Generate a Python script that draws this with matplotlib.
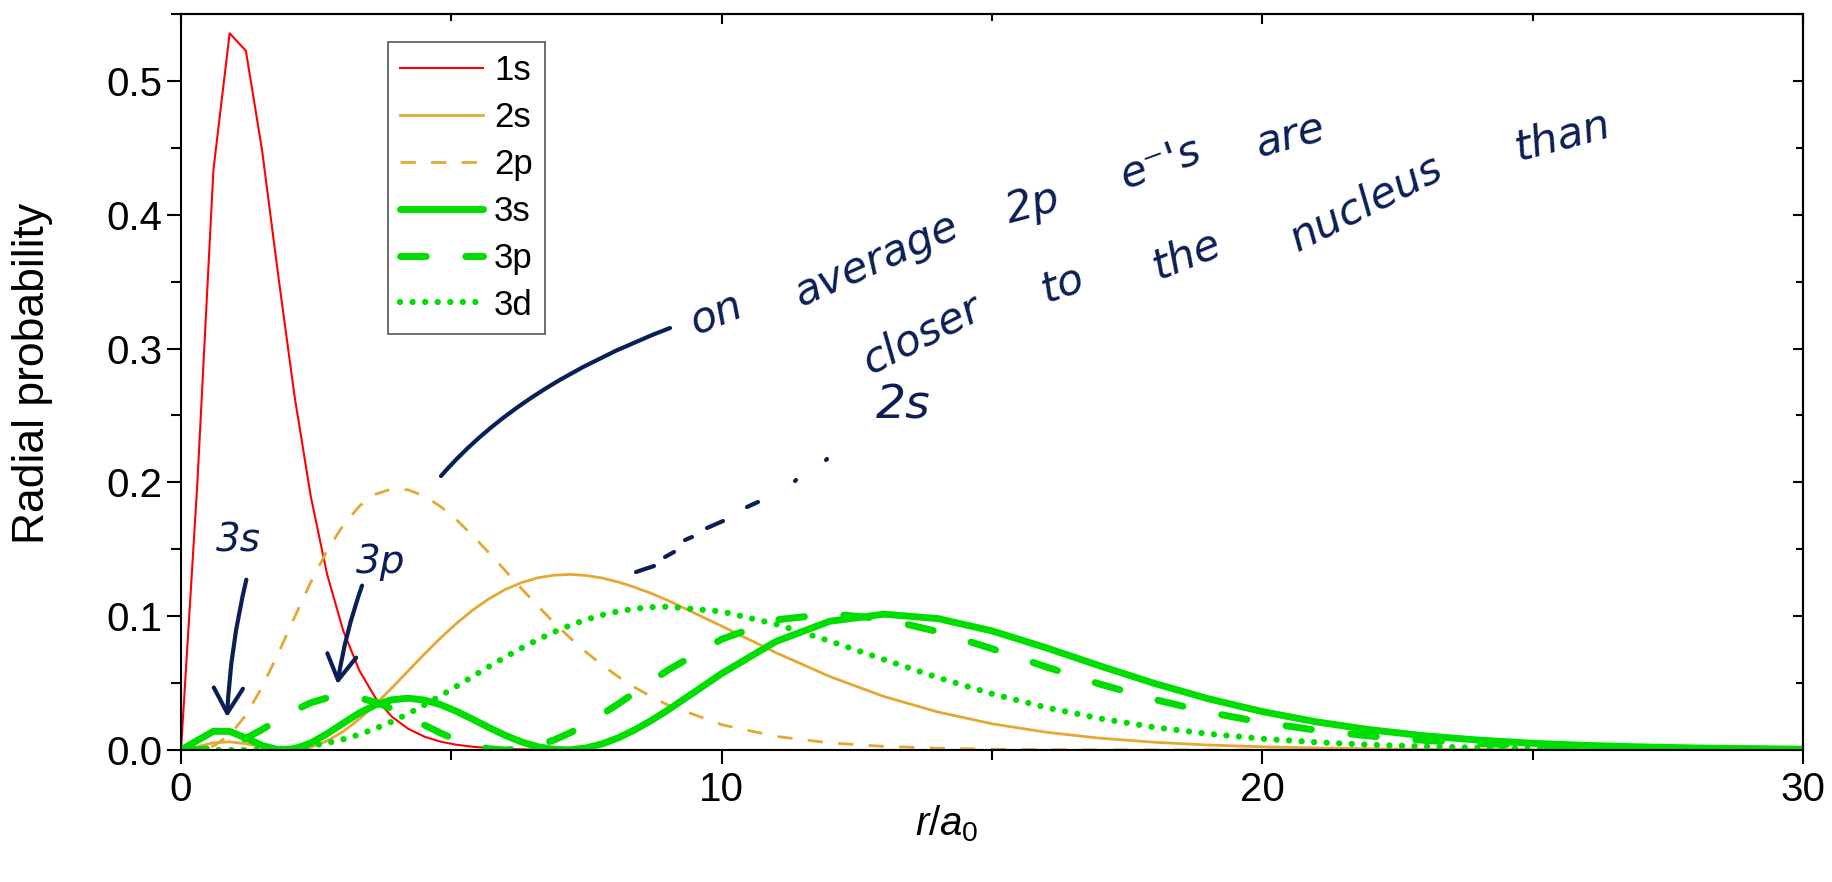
import matplotlib
matplotlib.use("Agg")
import matplotlib.pyplot as plt
import matplotlib.transforms as mtransforms
from matplotlib.patches import FancyArrowPatch, PathPatch
from matplotlib.path import Path
from matplotlib.ticker import MultipleLocator, FormatStrFormatter
from matplotlib.lines import Line2D

plt.rcParams['font.family'] = ['Liberation Sans', 'DejaVu Sans']
plt.rcParams['mathtext.fontset'] = 'custom'
plt.rcParams['mathtext.it'] = 'Liberation Sans:italic'
plt.rcParams['mathtext.rm'] = 'Liberation Sans'

# ------------------------------------------------------------------ #
#  Data : radial probability vs r/a0                                   #
# ------------------------------------------------------------------ #
r = [0, 0.3, 0.6, 0.9, 1.2, 1.5, 1.8, 2.1, 2.4, 2.7, 3.0, 3.3, 3.6, 3.9, 4.2, 4.5, 4.8,
     5.1, 5.4, 5.7, 6.0, 6.3, 6.6, 6.9, 7.2, 7.5, 7.8, 8.1, 8.4, 8.7, 9.0,
     10, 11, 12, 13, 14, 15, 16, 17, 18, 19, 20, 21, 22, 23, 24, 25, 26, 27, 28, 29, 30]

p_1s = [0, .1976, .4337, .5356, .5225, .4481, .3541, .2645, .1896, .1317, .0892, .0593,
        .0387, .0249, .0159, .0100, .0062, .0039, .0024, .0015, .0009, .0005, .0003, .0002,
        .0001, .0001, 0, 0, 0, 0, 0, 0, 0, 0, 0, 0, 0, 0, 0, 0, 0, 0, 0, 0, 0, 0, 0, 0, 0,
        0, 0, 0]
p_2s = [0, .0024, .0054, .0061, .0047, .0024, .0004, .0001, .0021, .0067, .0138, .0232,
        .0342, .0464, .0590, .0716, .0837, .0948, .1047, .1131, .1200, .1251, .1287, .1306,
        .1312, .1304, .1284, .1254, .1215, .1170, .1119, .0926, .0728, .0549, .0400, .0284,
        .0196, .0133, .0088, .0058, .0037, .0024, .0015, .0009, .0006, .0004, .0002, .0001,
        .0001, 0, 0, 0]
p_2p = [0, .0003, .0030, .0111, .0260, .0471, .0723, .0992, .1254, .1488, .1680, .1823,
        .1912, .1951, .1944, .1898, .1820, .1719, .1600, .1472, .1339, .1205, .1076, .0952,
        .0836, .0729, .0632, .0544, .0466, .0398, .0337, .0189, .0102, .0053, .0027, .0013,
        .0006, .0003, .0001, .0001, 0, 0, 0, 0, 0, 0, 0, 0, 0, 0, 0, 0]
p_3s = [0, .0071, .0140, .0139, .0090, .0034, .0002, .0009, .0052, .0121, .0200, .0277,
        .0337, .0375, .0387, .0373, .0339, .0288, .0229, .0167, .0109, .0060, .0024, .0004,
        .0001, .0016, .0047, .0093, .0152, .0221, .0297, .0571, .0810, .0962, .1015, .0982,
        .0890, .0764, .0628, .0498, .0383, .0287, .0210, .0151, .0106, .0074, .0050, .0034,
        .0023, .0015, .0010, .0006]
p_3p = [0, .0001, .0010, .0038, .0087, .0153, .0227, .0296, .0353, .0389, .0401, .0389,
        .0357, .0308, .0249, .0187, .0127, .0074, .0034, .0009, 0, .0009, .0034, .0075,
        .0129, .0195, .0269, .0348, .0431, .0514, .0595, .0828, .0972, .1018, .0980, .0884,
        .0757, .0621, .0492, .0378, .0282, .0206, .0148, .0104, .0072, .0049, .0033, .0022,
        .0015, .0009, .0006, .0004]
p_3d = [0, 0, 0, 0, .0001, .0003, .0008, .0017, .0031, .0052, .0080, .0116, .0161, .0212,
        .0271, .0336, .0405, .0477, .0551, .0624, .0695, .0762, .0825, .0882, .0932, .0975,
        .1010, .1037, .1056, .1067, .1071, .1035, .0941, .0814, .0676, .0541, .0420, .0318,
        .0235, .0170, .0121, .0084, .0058, .0039, .0026, .0017, .0011, .0007, .0005, .0003,
        .0002, .0001]

W, H = 1832, 882
fig = plt.figure(figsize=(W / 100, H / 100), dpi=100)
ax = fig.add_axes([181 / W, 1 - 750 / H, (1803 - 181) / W, (750 - 14) / H])
# pixel coordinates (origin top-left) for the hand-drawn notes
px = mtransforms.Affine2D().scale(1 / W, -1 / H).translate(0, 1) + fig.transFigure

RED = '#FF0000'
GOLD = '#E4A833'
GREEN = '#00DD00'
NAVY = '#0B1E55'

ax.plot(r, p_1s, color=RED, lw=1.5, label='1s')
ax.plot(r, p_2s, color=GOLD, lw=2, label='2s')
ax.plot(r, p_2p, color=GOLD, lw=2, ls=(0, (5.5, 5.5)), label='2p')
ax.plot(r, p_3s, color=GREEN, lw=5, solid_capstyle='round', label='3s')
ax.plot(r, p_3p, color=GREEN, lw=5, ls=(0, (3.7, 5.7)), dash_capstyle='round', label='3p')
ax.plot(r, p_3d, color=GREEN, lw=4.5, ls=(0, (0.01, 2)), dash_capstyle='round', label='3d')

# ------------------------------------------------------------------ #
#  Axes                                                                #
# ------------------------------------------------------------------ #
ax.set_xlim(0, 30)
ax.set_ylim(0, 0.55)
ax.xaxis.set_major_locator(MultipleLocator(10))
ax.xaxis.set_minor_locator(MultipleLocator(5))
ax.yaxis.set_major_locator(MultipleLocator(0.1))
ax.yaxis.set_minor_locator(MultipleLocator(0.05))
ax.yaxis.set_major_formatter(FormatStrFormatter('%.1f'))
ax.tick_params(which='major', direction='out', length=10, width=1.5, labelsize=29)
ax.tick_params(which='minor', direction='out', length=7, width=1.5)
ax.tick_params(axis='x', pad=5)
for s in ax.spines.values():
    s.set_linewidth(1.5)

top = ax.secondary_xaxis('top')
top.xaxis.set_major_locator(MultipleLocator(10))
top.xaxis.set_minor_locator(MultipleLocator(5))
top.tick_params(which='major', direction='in', length=7, width=1.5, labeltop=False)
top.tick_params(which='minor', direction='in', length=5, width=1.5)
top.spines['top'].set_linewidth(1.5)
right = ax.secondary_yaxis('right')
right.yaxis.set_major_locator(MultipleLocator(0.1))
right.yaxis.set_minor_locator(MultipleLocator(0.05))
right.tick_params(which='major', direction='in', length=7, width=1.5, labelright=False)
right.tick_params(which='minor', direction='in', length=5, width=1.5)
right.spines['right'].set_linewidth(1.5)

ax.set_xlabel('$r/a_0$', fontsize=29)
ax.xaxis.set_label_coords(0.472, -0.072)
ax.set_ylabel('Radial probability', fontsize=32)
ax.yaxis.set_label_coords(-0.079, 0.511)

leg = ax.legend(loc='upper left', bbox_to_anchor=(388, 42), bbox_transform=px,
                borderaxespad=0, fontsize=25, handlelength=2.4, handletextpad=0.3,
                labelspacing=0.4, borderpad=0.35, fancybox=False, framealpha=1,
                edgecolor='#555555')
leg.get_frame().set_linewidth(1.2)

# ------------------------------------------------------------------ #
#  Hand-written notes                                                  #
# ------------------------------------------------------------------ #
hand = dict(color=NAVY, transform=px, ha='center', va='center', rotation_mode='anchor',
            style='italic', family='DejaVu Sans')
words = [("on", 716, 314, 22), ("average", 876, 260, 24), ("2p", 1033, 205, 15),
         ("e\u207b's", 1160, 163, 20), ("are", 1290, 137, 15),
         ("closer", 922, 335, 27), ("to", 1062, 284, 20), ("the", 1186, 255, 22),
         ("nucleus", 1366, 203, 27), ("than", 1562, 136, 15)]
for w, x, y, a in words:
    fig.text(x, y, w, rotation=a, fontsize=31, **hand)
fig.text(903, 406, '2s', fontsize=34, **hand)
fig.text(238, 541, '3s', fontsize=28, **hand)
fig.text(381, 562, '3p', fontsize=28, **hand)

for a, b in [((247, 577), (227, 720)), ((363, 583), (337, 687))]:
    fig.add_artist(FancyArrowPatch(a, b, transform=px, arrowstyle='->,head_length=0.6,head_width=0.35',
                                   connectionstyle='arc3,rad=0.05', mutation_scale=30,
                                   color=NAVY, lw=3, capstyle='round'))
curve = Path([(670, 328), (520, 385), (441, 476)], [Path.MOVETO, Path.CURVE3, Path.CURVE3])
fig.add_artist(PathPatch(curve, transform=px, fc='none', ec=NAVY, lw=3, capstyle='round'))
dashes = [((636, 572), (654, 566)), ((665, 557), (674, 552)), ((685, 540), (692, 537)),
          ((707, 528), (723, 521)), ((747, 507), (758, 502)), ((795, 481), (796, 480)),
          ((826, 460), (827, 459))]
for (x0, y0), (x1, y1) in dashes:
    fig.add_artist(Line2D([x0, x1], [y0, y1], transform=px, color=NAVY,
                          lw=3, solid_capstyle='round'))

fig.savefig('out.png', dpi=100)
